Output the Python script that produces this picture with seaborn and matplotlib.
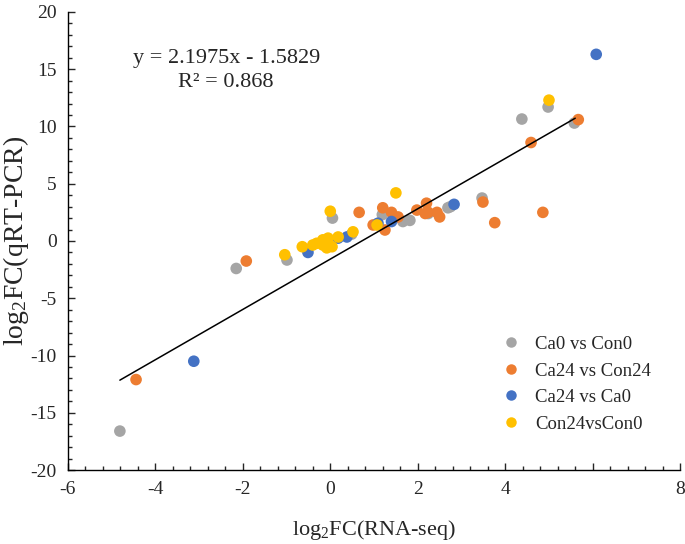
import numpy as np
import pandas as pd
import matplotlib
matplotlib.use("Agg")
import matplotlib.pyplot as plt
from matplotlib.ticker import MultipleLocator
import seaborn as sns

# values
ca0_con0_x = [-4.81, -2.15, -0.99, 0.05, 0.49, 1.19, 1.66, 1.82, 2.24, 2.69, 2.75, 3.47, 4.38, 4.98, 5.58]
ca0_con0_y = [-16.6, -2.4, -1.66, 2.0, 0.6, 2.3, 1.7, 1.8, 2.4, 2.9, 3.0, 3.75, 10.65, 11.7, 10.3]

ca24_con24_x = [-4.44, -1.92, 0.66, 0.98, 1.2, 1.25, 1.4, 1.55, 1.98, 2.17, 2.2, 2.24, 2.44, 2.5, 3.49, 3.76, 4.59, 4.86, 5.67]
ca24_con24_y = [-12.1, -1.75, 2.5, 1.4, 2.9, 0.96, 2.5, 2.1, 2.7, 2.4, 3.3, 2.5, 2.5, 2.1, 3.4, 1.6, 8.6, 2.5, 10.6]

ca24_ca0_x = [-3.12, -0.51, 0.18, 0.38, 1.09, 1.4, 2.83, 6.08]
ca24_ca0_y = [-10.5, -1.0, 0.25, 0.35, 1.55, 1.7, 3.2, 16.3]

con24_con0_x = [-1.04, -0.64, -0.4, -0.31, -0.17, -0.17, -0.08, -0.05, 0.0, 0.04, 0.18, 0.52, 1.07, 1.5, 5.0]
con24_con0_y = [-1.2, -0.5, -0.35, -0.2, 0.1, -0.35, -0.6, 0.25, 2.6, -0.5, 0.35, 0.8, 1.4, 4.2, 12.3]

groups = ["Ca0 vs Con0", "Ca24 vs Con24", "Ca24 vs Ca0", "Con24vsCon0"]
colors = ["#A5A5A5", "#ED7D31", "#4472C4", "#FFC000"]

slope, intercept, r2 = 2.1975, -1.5829, 0.868
line_x = [-4.81, 5.6]

xticks = [-6, -4, -2, 0, 2, 4, 6, 8]
xtick_labels = ["-6", "-4", "-2", "0", "2", "4", "", "8"]
yticks = [-20, -15, -10, -5, 0, 5, 10, 15, 20]

d = pd.concat([
    pd.DataFrame({"x": ca0_con0_x, "y": ca0_con0_y, "group": groups[0]}),
    pd.DataFrame({"x": ca24_con24_x, "y": ca24_con24_y, "group": groups[1]}),
    pd.DataFrame({"x": ca24_ca0_x, "y": ca24_ca0_y, "group": groups[2]}),
    pd.DataFrame({"x": con24_con0_x, "y": con24_con0_y, "group": groups[3]}),
], ignore_index=True)

sns.set_style("ticks")
plt.rcParams["font.family"] = ["Liberation Serif", "DejaVu Serif"]
plt.rcParams["mathtext.fontset"] = "custom"
plt.rcParams["mathtext.rm"] = "Liberation Serif"
plt.rcParams["mathtext.it"] = "Liberation Serif:italic"
plt.rcParams["axes.unicode_minus"] = False

fig = plt.figure(figsize=(6.85, 5.44), dpi=100)
ax = fig.add_axes([0.099, 0.136, 0.894, 0.842])

sns.scatterplot(data=d, x="x", y="y", hue="group", hue_order=groups,
                palette=colors, s=70, edgecolor="none", linewidth=0,
                alpha=1, ax=ax, zorder=2)

lx = np.array(line_x)
ax.plot(lx, slope * lx + intercept, color="black", lw=1.1, zorder=3)

ax.text(-2.36, 15.95, "y = 2.1975x - 1.5829", fontsize=16, ha="center", va="center")
ax.text(-2.4, 13.8, "R² = %.3f" % r2, fontsize=16, ha="center", va="center")

ax.set_xlim(-6, 8)
ax.set_ylim(-20, 20)
ax.set_xticks(xticks)
ax.set_xticklabels(xtick_labels)
ax.set_yticks(yticks)
ax.xaxis.set_minor_locator(MultipleLocator(0.4))
ax.yaxis.set_minor_locator(MultipleLocator(1))
ax.tick_params(which="major", direction="in", length=5, width=1, labelsize=14, pad=8)
ax.tick_params(which="minor", direction="in", length=3, width=1)
for s in ["top", "right"]:
    ax.spines[s].set_visible(False)
for s in ["left", "bottom"]:
    ax.spines[s].set_linewidth(1)
    ax.spines[s].set_color("black")

ax.set_xlabel("log$_2$FC(RNA-seq)", fontsize=16, labelpad=14)
ax.set_ylabel("log$_2$FC(qRT-PCR)", fontsize=20)
ax.yaxis.set_label_coords(-0.06, 0.5)

leg = ax.legend(loc="lower right", bbox_to_anchor=(0.98, 0.045), frameon=False,
                fontsize=13.5, handletextpad=0.3, labelspacing=0.5, markerscale=0.9)

fig.savefig("out.png", dpi=100)
